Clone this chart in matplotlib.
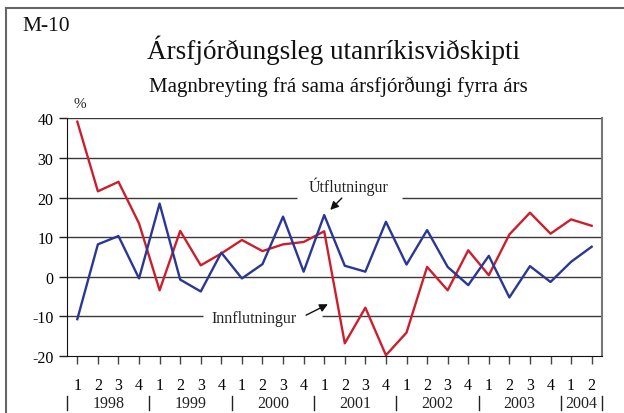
import matplotlib
matplotlib.use('Agg')
import matplotlib.pyplot as plt
from matplotlib.lines import Line2D
import matplotlib.transforms as mtransforms

plt.rcParams['font.family'] = ['Liberation Serif', 'DejaVu Serif']
plt.rcParams['axes.unicode_minus'] = False  # plain hyphen for negatives

# data: quarterly change, 1998 Q1 - 2004 Q2
years = ['1998', '1999', '2000', '2001', '2002', '2003', '2004']
quarters = ['1', '2', '3', '4'] * 6 + ['1', '2']
innflutningur = [39.2, 21.6, 24.0, 13.5, -3.4, 11.6, 2.9, 5.9, 9.3, 6.5,
                 8.2, 8.8, 11.5, -16.8, -7.8, -19.8, -14.1, 2.5, -3.4, 6.7,
                 0.4, 10.7, 16.2, 10.9, 14.5, 12.9]
utflutningur = [-10.7, 8.2, 10.3, -0.4, 18.5, -0.7, -3.7, 6.1, -0.4, 3.2,
                15.2, 1.3, 15.6, 2.8, 1.3, 13.9, 3.1, 11.8, 2.5, -2.1,
                5.3, -5.2, 2.7, -1.3, 3.8, 7.6]

x = list(range(len(quarters)))

fig = plt.figure(figsize=(6.24, 4.14), dpi=100)
ax = fig.add_axes([0.1074, 0.1377, 0.8573, 0.5737])

# gridlines (with gaps for the labels)
grid_c = '#3a3a3a'
for v in [40, 30, 10, 0]:
    ax.hlines(v, -0.5, 25.5, color=grid_c, lw=1, zorder=1)
ax.hlines(20, -0.5, 10.7, color=grid_c, lw=1, zorder=1)
ax.hlines(20, 15.8, 25.5, color=grid_c, lw=1, zorder=1)
ax.hlines(-10, -0.5, 6.1, color=grid_c, lw=1, zorder=1)
ax.hlines(-10, 11.9, 25.5, color=grid_c, lw=1, zorder=1)

ax.plot(x, innflutningur, color='#cc1f2d', lw=1.7, zorder=3)
ax.plot(x, utflutningur, color='#2a3794', lw=1.7, zorder=3)

ax.set_xlim(-0.5, 25.5)
ax.set_ylim(-20, 40)
ax.set_yticks(range(-20, 41, 10))
ax.set_xticks(x)
ax.set_xticklabels(quarters)
ax.tick_params(axis='y', direction='out', length=5.8, width=1, pad=4,
               labelsize=11.5, color='#222222')
ax.tick_params(axis='x', direction='out', length=5.8, width=1, pad=9,
               labelsize=11.5, color='#444444')

ax.spines['top'].set_visible(False)
ax.spines['left'].set_color('#111111')
ax.spines['bottom'].set_color('#111111')
ax.spines['right'].set_color('#777777')
ax.spines['right'].set_linewidth(1.5)

# year labels and separators
trans = mtransforms.blended_transform_factory(ax.transData, ax.transAxes)
bounds = [-0.5, 3.5, 7.5, 11.5, 15.5, 19.5, 23.5, 25.5]
for b in bounds:
    ax.add_line(Line2D([b, b], [-0.168, -0.228], transform=trans,
                       color='#222222', lw=1, clip_on=False))
for i, yr in enumerate(years):
    ax.text((bounds[i] + bounds[i + 1]) / 2, -0.198, yr, transform=trans,
            ha='center', va='center', fontsize=11.5, color='#222222')

# series labels with arrows
ax.text(13.2, 23.0, 'Útflutningur', ha='center', va='center',
        fontsize=11.5, color='#222222')
ax.annotate('', xy=(12.2, 16.4), xytext=(12.95, 20.4),
            arrowprops=dict(arrowstyle='-|>', color='#111111', lw=1,
                            mutation_scale=12))
ax.text(8.6, -10.3, 'Innflutningur', ha='center', va='center',
        fontsize=11.5, color='#222222')
ax.annotate('', xy=(12.3, -6.6), xytext=(11.0, -10.0),
            arrowprops=dict(arrowstyle='-|>', color='#111111', lw=1,
                            mutation_scale=12))

ax.text(0.013, 1.062, '%', transform=ax.transAxes, ha='left', va='center',
        fontsize=11, color='#222222')

fig.text(0.074, 0.935, 'M-10', ha='center', va='center', fontsize=15.5,
         color='#111111')
fig.text(0.535, 0.879, 'Ársfjórðungsleg utanríkisviðskipti', ha='center',
         va='center', fontsize=19.5, color='#111111')
fig.text(0.543, 0.79, 'Magnbreyting frá sama ársfjórðungi fyrra árs',
         ha='center', va='center', fontsize=15, color='#111111')

# outer frame
fig.add_artist(Line2D([6 / 624, 6 / 624], [0, 1 - 9 / 414],
                      transform=fig.transFigure, color='#666666', lw=1.5))
fig.add_artist(Line2D([6 / 624, 1], [1 - 9 / 414, 1 - 9 / 414],
                      transform=fig.transFigure, color='#666666', lw=1.5))

fig.savefig('out.png', dpi=100)
